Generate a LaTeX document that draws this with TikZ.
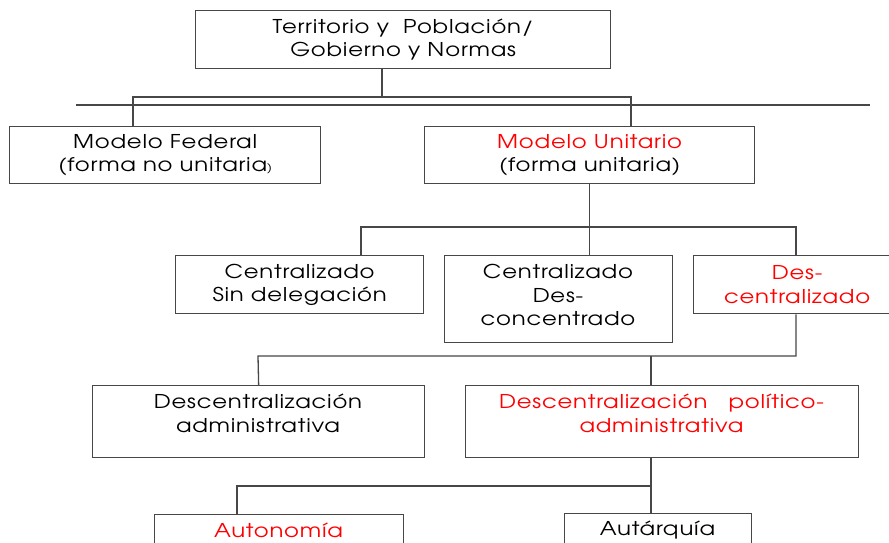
\documentclass[tikz,border=0pt]{standalone}
\usepackage{fontspec}
\setmainfont{texgyreadventor-regular.otf}[FakeStretch=1.2, LetterSpace=4]
\definecolor{ln}{HTML}{474747}
\definecolor{rd}{HTML}{FF0000}
\begin{document}
\begin{tikzpicture}[x=1pt,y=-1pt,
  font=\fontsize{19}{23.5}\selectfont,
  box/.style={draw=ln, line width=1.3pt, rectangle, inner sep=0pt, anchor=north west, align=center},
  lbl/.style={inner sep=0pt, align=center},
  conn/.style={draw=ln, line width=1.3pt}]
\useasboundingbox (0,0) rectangle (889,543);
\clip (0,0) rectangle (889,543);
% boxes
\node[box, minimum width=415, minimum height=58] (top) at (195,10) {Territorio y\ \ Poblaci\'on/\\Gobierno y Normas};
\node[box, minimum width=311, minimum height=57] (fed) at (9,126) {Modelo Federal\\(forma no unitaria{\fontsize{11}{13}\selectfont)}};
\node[box, minimum width=330, minimum height=57] (uni) at (424,126) {\textcolor{rd}{Modelo Unitario}\\(forma unitaria)};
\node[box, minimum width=248, minimum height=58] (csin) at (175,255) {Centralizado\\Sin delegaci\'on};
\node[box, minimum width=228, minimum height=87] (dcon) at (444,255) {};
\node[lbl] (dcont) at (558,295) {Centralizado\\Des-\\concentrado};
\node[box, minimum width=207, minimum height=58, text=rd] (dcen) at (693,255) {Des-\\centralizado};
\node[box, minimum width=332, minimum height=72] (adm) at (92,385) {};
\node[lbl] (admt) at (258,413.5) {Descentralizaci\'on\\administrativa};
\node[box, minimum width=393, minimum height=72] (pol) at (465,385) {};
\node[lbl, text=rd] (polt) at (661.5,413.5) {Descentralizaci\'on\ \ \ pol\'itico-\\administrativa};
\node[box, minimum width=249, minimum height=60] (aut) at (154,514) {};
\node[lbl, text=rd] (autt) at (278.5,530) {Autonom\'ia};
\node[box, minimum width=187, minimum height=60] (autq) at (564,513) {};
\node[lbl] (autqt) at (657.5,530) {Aut\'arqu\'ia};
% junction points
\coordinate (j0) at (382,97);
\coordinate (jf) at (133,97);
\coordinate (ju) at (631,97);
\coordinate (sepL) at (76,105);
\coordinate (sepR) at (870,105);
\coordinate (k1) at (361,227);
\coordinate (k2) at (796,227);
\coordinate (m1) at (258,356);
\coordinate (m2) at (651,356);
\coordinate (n1) at (237,486);
% connectors
\draw[conn] (top.south -| j0) -- (j0);
\draw[conn] (jf |- fed.north) -- (jf) -- (ju) -- (ju |- uni.north);
\draw[conn] (sepL) -- (sepR);
\draw[conn] (uni.south) -- (uni.south |- dcon.north);
\draw[conn] (k1 |- csin.north) -- (k1) -- (k2) -- (k2 |- dcen.north);
\draw[conn] (k2 |- dcen.south) -- (k2 |- m1) -- (m1) -- (adm.north);
\draw[conn] (m2) -- (m2 |- pol.north);
\draw[conn] (m2 |- pol.south) -- (m2 |- autq.north);
\draw[conn] (m2 |- n1) -- (n1) -- (n1 |- aut.north);
\end{tikzpicture}
\end{document}
